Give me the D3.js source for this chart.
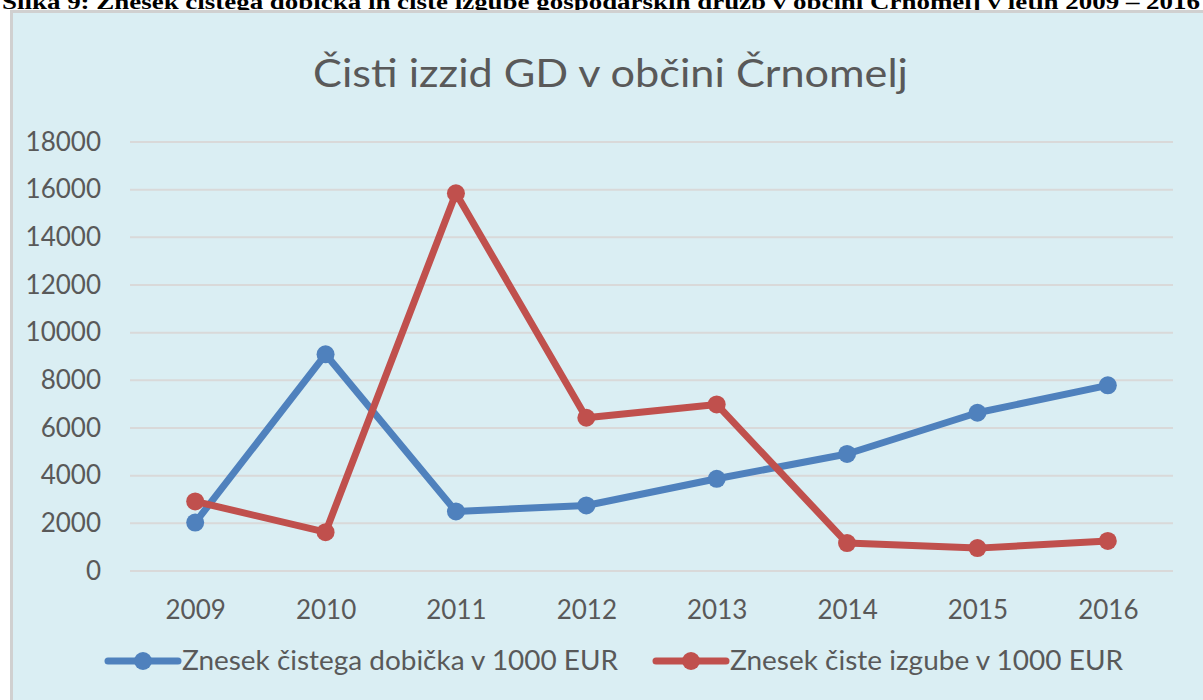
<!DOCTYPE html>
<html>
<head>
<meta charset="utf-8">
<script src="https://cdn.jsdelivr.net/npm/d3@7"></script>
<style>
  body { margin: 0; background: #fff; }
  svg { display: block; }
</style>
</head>
<body>
<div id="chart"></div>
<script>
// Chart data
const years = ["2009", "2010", "2011", "2012", "2013", "2014", "2015", "2016"];
const profit = [2030, 9090, 2500, 2750, 3870, 4910, 6640, 7790];   // Znesek čistega dobička
const loss = [2920, 1630, 15850, 6430, 6990, 1170, 960, 1260];     // Znesek čiste izgube
const yTicks = [0, 2000, 4000, 6000, 8000, 10000, 12000, 14000, 16000, 18000];

const seriesNames = ["Znesek čistega dobička v 1000 EUR", "Znesek čiste izgube v 1000 EUR"];
const colors = ["#4f81bd", "#c0504d"];

const W = 1203, H = 700;
const svg = d3.select("#chart").append("svg")
    .attr("width", W)
    .attr("height", H);

// caption above the chart box (partly cut off at the top)
svg.append("text")
    .attr("x", 2)
    .attr("y", 9)
    .attr("font-family", "Liberation Serif, Times New Roman, serif")
    .attr("font-weight", "bold")
    .attr("font-size", 20)
    .attr("textLength", 1198)
    .attr("lengthAdjust", "spacingAndGlyphs")
    .attr("fill", "#000")
    .text("Slika 9: Znesek čistega dobička in čiste izgube gospodarskih družb v občini Črnomelj v letih 2009 – 2016");

// chart area box
svg.append("rect")
    .attr("x", 11.5)
    .attr("y", 11.5)
    .attr("width", W)
    .attr("height", H)
    .attr("fill", "#daeef3")
    .attr("stroke", "#d0d0d0")
    .attr("stroke-width", 3);

const plot = { left: 130, right: 1173, top: 142, bottom: 571 };

const x = d3.scalePoint()
    .domain(years)
    .range([plot.left, plot.right])
    .padding(0.5);

const y = d3.scaleLinear()
    .domain([0, 18000])
    .range([plot.bottom, plot.top]);

const font = "Lato, 'Open Sans', sans-serif";

// title
svg.append("text")
    .attr("x", 313)
    .attr("y", 87)
    .attr("font-family", font)
    .attr("font-size", 38)
    .attr("textLength", 595)
    .attr("lengthAdjust", "spacingAndGlyphs")
    .attr("fill", "#595959")
    .text("Čisti izzid GD v občini Črnomelj");

// gridlines
svg.append("g")
    .selectAll("line")
    .data(yTicks)
    .join("line")
    .attr("x1", plot.left)
    .attr("x2", plot.right)
    .attr("y1", d => y(d))
    .attr("y2", d => y(d))
    .attr("stroke", "#d9d9d9")
    .attr("stroke-width", 2);

// y axis labels
const yAxis = svg.append("g")
    .attr("transform", `translate(${plot.left - 29},0)`)
    .call(d3.axisLeft(y).tickValues(yTicks).tickSize(0).tickPadding(0).tickFormat(d3.format("d")));
yAxis.select(".domain").remove();
yAxis.selectAll("text")
    .attr("font-family", font)
    .attr("font-size", 26)
    .attr("fill", "#595959");

// x axis labels
const xAxis = svg.append("g")
    .attr("transform", `translate(0,${plot.bottom + 30})`)
    .call(d3.axisBottom(x).tickSize(0).tickPadding(0));
xAxis.select(".domain").remove();
xAxis.selectAll("text")
    .attr("font-family", font)
    .attr("font-size", 26)
    .attr("fill", "#595959");

// lines and markers
const line = d3.line()
    .x((d, i) => x(years[i]))
    .y(d => y(d));

[profit, loss].forEach((vals, k) => {
    const g = svg.append("g");
    g.append("path")
        .datum(vals)
        .attr("d", line)
        .attr("fill", "none")
        .attr("stroke", colors[k])
        .attr("stroke-width", 7)
        .attr("stroke-linejoin", "round");
    g.selectAll("circle")
        .data(vals)
        .join("circle")
        .attr("cx", (d, i) => x(years[i]))
        .attr("cy", d => y(d))
        .attr("r", 9)
        .attr("fill", colors[k]);
});

// legend
const legendItems = [
    { x: 108, textX: 182, len: 436 },
    { x: 656, textX: 730, len: 393 }
];
const legend = svg.append("g").attr("transform", "translate(0,661)");
legendItems.forEach((it, k) => {
    legend.append("line")
        .attr("x1", it.x)
        .attr("x2", it.x + 70)
        .attr("stroke", colors[k])
        .attr("stroke-width", 7)
        .attr("stroke-linecap", "round");
    legend.append("circle")
        .attr("cx", it.x + 35)
        .attr("r", 9)
        .attr("fill", colors[k]);
    legend.append("text")
        .attr("x", it.textX)
        .attr("y", 9)
        .attr("font-family", font)
        .attr("font-size", 26)
        .attr("textLength", it.len)
        .attr("lengthAdjust", "spacingAndGlyphs")
        .attr("fill", "#595959")
        .text(seriesNames[k]);
});
</script>
</body>
</html>
